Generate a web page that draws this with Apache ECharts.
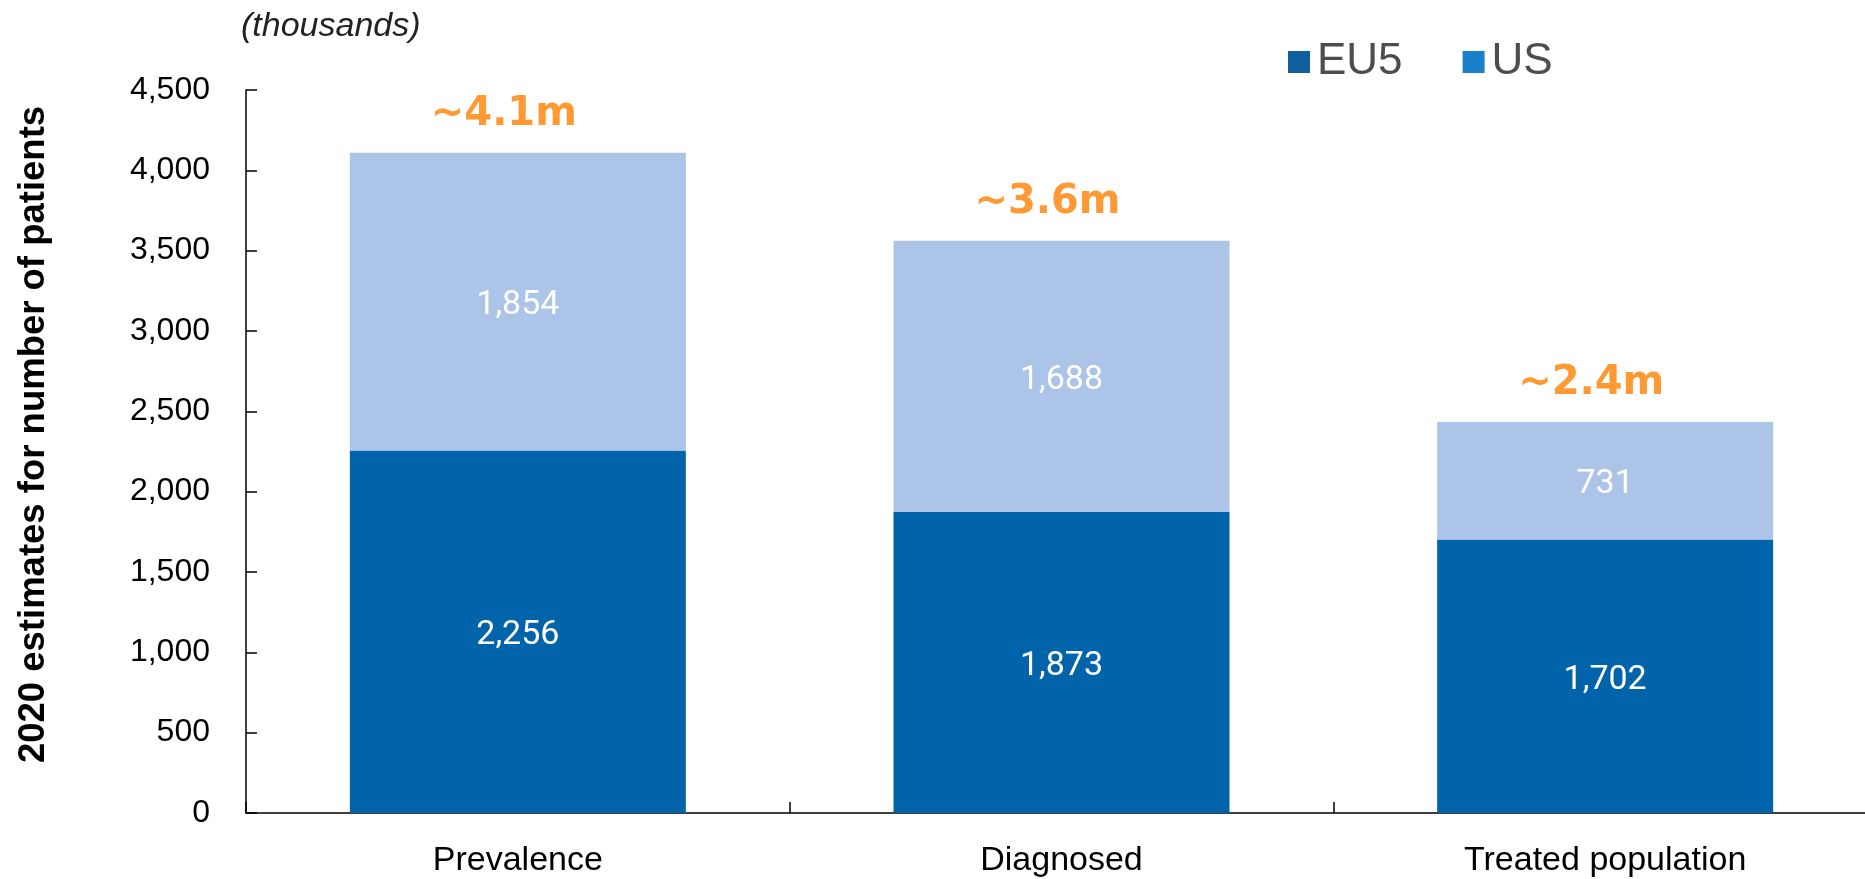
<!DOCTYPE html>
<html>
<head>
<meta charset="utf-8">
<style>
html,body{margin:0;padding:0;background:#fff;overflow:hidden;}
#chart{width:1877px;height:879px;}
</style>
<script src="https://cdn.jsdelivr.net/npm/echarts@6/dist/echarts.min.js"></script>
</head>
<body>
<div id="chart"></div>
<script>
const categories = ['Prevalence', 'Diagnosed', 'Treated population'];
const eu5 = [2256, 1873, 1702];
const us = [1854, 1688, 731];
const totalLabels = ['~4.1m', '~3.6m', '~2.4m'];
const yTicks = { min: 0, max: 4500, interval: 500 };

const totals = eu5.map((v, i) => v + us[i]);

const chart = echarts.init(document.getElementById('chart'));
const fmt = v => Number(v).toLocaleString('en-US');

chart.setOption({
  animation: false,
  backgroundColor: '#fff',
  title: {
    text: '(thousands)',
    left: 236,
    top: 5,
    textStyle: { fontFamily: 'Liberation Sans', fontStyle: 'italic', fontWeight: 'normal', fontSize: 34, color: '#222' }
  },
  legend: {
    data: [
      { name: 'EU5', itemStyle: { color: '#10609f' } },
      { name: 'US', itemStyle: { color: '#1a7fc9' } }
    ],
    left: 1283,
    top: 35,
    icon: 'rect',
    itemWidth: 22,
    itemHeight: 22,
    itemGap: 60,
    textStyle: { fontFamily: 'Liberation Sans', fontSize: 44, color: '#4d4d4d', padding: [0, 0, 0, 2] }
  },
  grid: { left: 246, right: 0, top: 90, bottom: 66, containLabel: false },
  xAxis: {
    type: 'category',
    data: categories,
    axisLine: { lineStyle: { color: '#000', width: 1.5 } },
    axisTick: { show: true, inside: true, length: 11, alignWithLabel: false, lineStyle: { color: '#000', width: 1.5 } },
    axisLabel: { fontFamily: 'Liberation Sans', fontSize: 34, color: '#000', margin: 31 }
  },
  yAxis: {
    type: 'value',
    min: yTicks.min,
    max: yTicks.max,
    interval: yTicks.interval,
    name: '2020 estimates for number of patients',
    nameLocation: 'middle',
    nameGap: 194,
    nameTextStyle: { fontFamily: 'Liberation Sans', fontWeight: 'bold', fontSize: 36.5, color: '#000', padding: [0, 0, 0, 34] },
    splitLine: { show: false },
    axisLine: { show: true, lineStyle: { color: '#000', width: 1.5 } },
    axisTick: { show: true, inside: true, length: 11, lineStyle: { color: '#000', width: 1.5 } },
    axisLabel: { fontFamily: 'Liberation Sans', fontSize: 32, color: '#000', margin: 36, formatter: fmt }
  },
  series: [
    {
      name: 'EU5',
      type: 'bar',
      stack: 'total',
      data: eu5,
      barWidth: 336,
      itemStyle: { color: '#0164aa' },
      label: { show: true, position: 'inside', offset: [0, 4], color: '#fff', fontFamily: 'Roboto', fontSize: 34, formatter: p => fmt(p.value) }
    },
    {
      name: 'US',
      type: 'bar',
      stack: 'total',
      data: us,
      barWidth: 336,
      itemStyle: { color: '#adc4e9' },
      label: { show: true, position: 'inside', offset: [0, 4], color: '#fff', fontFamily: 'Roboto', fontSize: 34, formatter: p => fmt(p.value) }
    },
    {
      name: 'Total',
      type: 'scatter',
      data: totals,
      symbolSize: 1,
      itemStyle: { color: 'rgba(0,0,0,0)' },
      label: {
        show: true,
        position: 'top',
        distance: 18,
        offset: [-14, 0],
        color: '#ff7f00',
        fontFamily: 'DejaVu Sans',
        fontWeight: 'bold',
        fontSize: 40,
        formatter: p => totalLabels[p.dataIndex]
      }
    }
  ]
});
</script>
</body>
</html>
